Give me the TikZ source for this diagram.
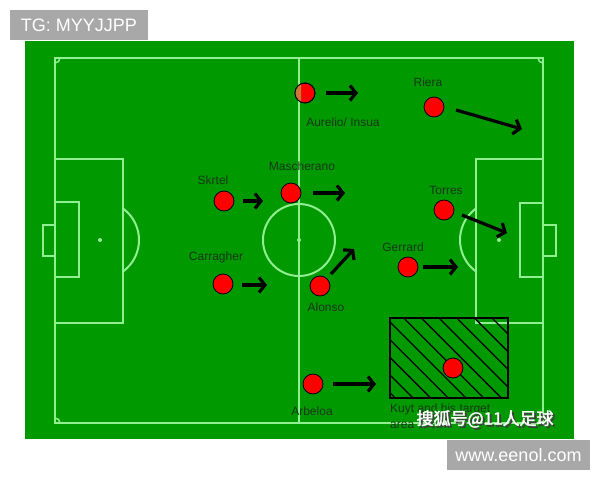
\documentclass[tikz,border=0pt]{standalone}
\usepackage{fontspec}
\setmainfont{Liberation Sans}
\newfontfamily\cjk[FakeBold=2]{Noto Sans CJK SC}
\usetikzlibrary{arrows.meta,patterns.meta}

\definecolor{pitchgreen}{RGB}{0,153,0}
\definecolor{chalk}{RGB}{145,238,145}
\definecolor{markgray}{RGB}{168,168,168}
\definecolor{labeltext}{RGB}{25,55,25}
\definecolor{halfback}{RGB}{200,120,55}

\tikzset{
    chalkline/.style={draw=chalk, line width=2pt},
    player/.style={circle, draw=black, line width=0.8pt, fill=red,
        minimum size=20pt, inner sep=0pt},
    run/.style={draw=black, line width=3.2pt,
        -{Straight Barb[length=6pt,width=15pt]}},
    plabel/.style={text=labeltext, font=\fontsize{12}{16}\selectfont, inner sep=0pt},
    stamp/.style={fill=markgray, text=white, font=\fontsize{18}{20}\selectfont,
        inner sep=0pt}
}

\begin{document}
\begin{tikzpicture}[x=1pt, y=-1pt]
    \useasboundingbox (0,0) rectangle (600,480);
    \fill[white] (0,0) rectangle (600,480);

    % pitch
    \fill[pitchgreen] (25,41) rectangle (574,439);
    \draw[chalkline] (55,58) rectangle (543,423);
    \draw[chalkline] (299,58) -- (299,423);
    \draw[chalkline] (299,240) circle (36pt);
    \fill[chalk] (299,240) circle (2pt);
    \begin{scope}
        \clip (55,58) rectangle (543,423);
        \foreach \cx/\cy in {55/58, 543/58, 55/423, 543/423}
            \draw[chalkline, line width=1.5pt] (\cx,\cy) circle (5pt);
    \end{scope}

    % left end
    \draw[chalkline] (55,159) rectangle (123,323);
    \draw[chalkline] (55,202) rectangle (79,277);
    \draw[chalkline] (43,225) rectangle (55,256);
    \fill[chalk] (100,240) circle (2pt);
    \begin{scope}
        \clip (123,159) rectangle (170,323);
        \draw[chalkline] (100,240) circle (39pt);
    \end{scope}

    % right end
    \draw[chalkline] (476,159) rectangle (543,323);
    \draw[chalkline] (520,203) rectangle (543,277);
    \draw[chalkline] (543,225) rectangle (556,256);
    \fill[chalk] (499,240) circle (2pt);
    \begin{scope}
        \clip (430,159) rectangle (476,323);
        \draw[chalkline] (499,240) circle (39pt);
    \end{scope}

    % Kuyt's area
    \node[draw=black, line width=1.5pt,
        pattern={Lines[angle=-45,distance=12.5pt,line width=1.3pt]},
        minimum width=118pt, minimum height=80pt] (target) at (449,358) {};

    % players
    \node[player] (aurelio) at (305,93) {};
    \begin{scope}
        \clip (290,80) rectangle (301,106);
        \fill[halfback] (aurelio.center) circle (10pt);
    \end{scope}
    \draw[line width=0.8pt] (aurelio.center) circle (10pt);
    \node[player] (riera) at (434,107) {};
    \node[player] (skrtel) at (224,201) {};
    \node[player] (mascherano) at (291,193) {};
    \node[player] (torres) at (444,210) {};
    \node[player] (carragher) at (223,284) {};
    \node[player] (alonso) at (320,286) {};
    \node[player] (gerrard) at (408,267) {};
    \node[player] (arbeloa) at (313,384) {};
    \node[player] (kuyt) at (453,368) {};

    % names
    \node[plabel] (aurelio-l) at (343,122) {Aurelio/ Insua};
    \node[plabel] (riera-l) at (428,82) {Riera};
    \node[plabel] (skrtel-l) at (213,180) {Skrtel};
    \node[plabel] (mascherano-l) at (302,166) {Mascherano};
    \node[plabel] (torres-l) at (446,190) {Torres};
    \node[plabel] (carragher-l) at (216,257) {Carragher};
    \node[plabel] (alonso-l) at (326,307) {Alonso};
    \node[plabel] (gerrard-l) at (403,247) {Gerrard};
    \node[plabel] (arbeloa-l) at (312,411) {Arbeloa};
    \node[plabel, align=left, anchor=base west] (kuyt-l) at (390,428)
        {Kuyt and his target\\area};

    % runs
    \coordinate (aurelio-s) at (326,93);   \coordinate (aurelio-e) at (358,93);
    \coordinate (riera-s) at (456,110);    \coordinate (riera-e) at (522,129);
    \coordinate (skrtel-s) at (243,201);   \coordinate (skrtel-e) at (263,201);
    \coordinate (mascherano-s) at (313,193); \coordinate (mascherano-e) at (345,193);
    \coordinate (torres-s) at (462,215);   \coordinate (torres-e) at (507,233);
    \coordinate (carragher-s) at (242,285); \coordinate (carragher-e) at (267,285);
    \coordinate (alonso-s) at (331,274);   \coordinate (alonso-e) at (354,249);
    \coordinate (gerrard-s) at (423,267);  \coordinate (gerrard-e) at (458,267);
    \coordinate (arbeloa-s) at (333,384);  \coordinate (arbeloa-e) at (376,384);
    \foreach \p in {aurelio, riera, skrtel, mascherano, torres,
                    carragher, alonso, gerrard, arbeloa}
        \draw[run] (\p-s) -- (\p-e);

    % watermarks
    \node[stamp, minimum width=138pt, minimum height=30pt] (tg) at (79,25) {TG: MYYJJPP};
    \node[stamp, minimum width=143pt, minimum height=30pt] (site) at (518.5,455) {www.eenol.com};
    \node[font=\cjk\fontsize{17}{17}\selectfont, text=black!75, inner sep=0pt]
        (sohu-shadow) at (487,421) {搜狐号@11人足球};
    \node[font=\cjk\fontsize{17}{17}\selectfont, text=white, inner sep=0pt]
        (sohu) at (485,419) {搜狐号@11人足球};
\end{tikzpicture}
\end{document}
